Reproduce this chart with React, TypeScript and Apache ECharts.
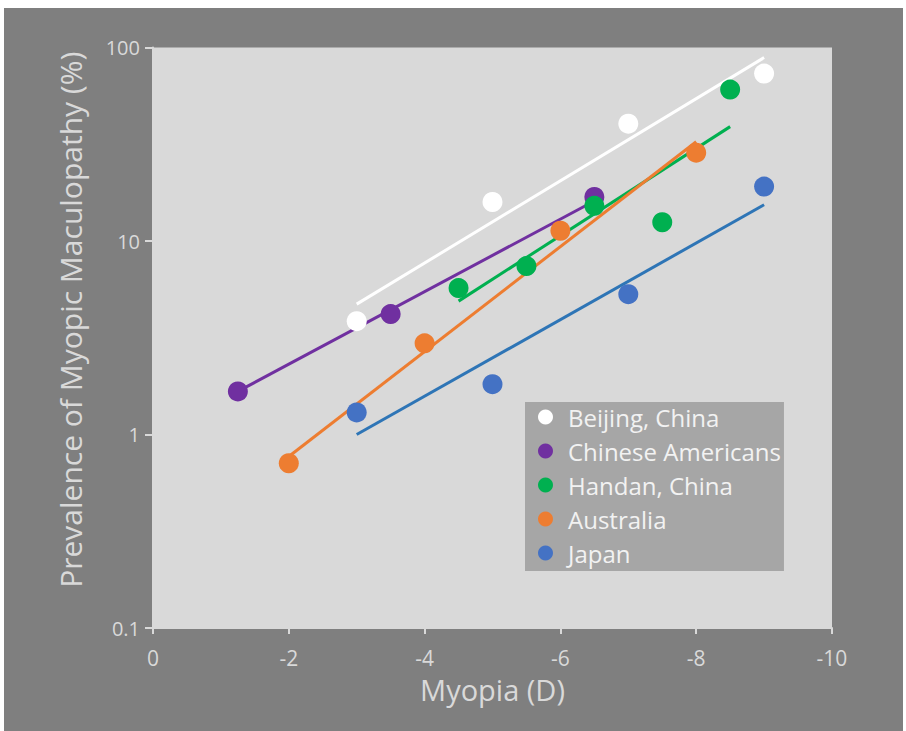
import React, { useEffect, useRef } from "react";
import * as echarts from "echarts";

const seriesNames = ["Beijing, China", "Chinese Americans", "Handan, China", "Australia", "Japan"];
const seriesColors = ["#ffffff", "#7030a0", "#00b050", "#ed7d31", "#4472c4"];
const lineColors = ["#ffffff", "#7030a0", "#00b050", "#ed7d31", "#2e75b6"];

const beijingX = [-3, -5, -7, -9];
const beijingY = [3.85, 15.9, 40.4, 73.3];
const chineseAmX = [-1.25, -3.5, -6.5];
const chineseAmY = [1.67, 4.19, 16.9];
const handanX = [-4.5, -5.5, -6.5, -7.5, -8.5];
const handanY = [5.71, 7.42, 15.2, 12.5, 60.6];
const australiaX = [-2, -4, -6, -8];
const australiaY = [0.71, 2.96, 11.3, 28.6];
const japanX = [-3, -5, -7, -9];
const japanY = [1.3, 1.82, 5.31, 19.1];

// trend line endpoints [x0, y0, x1, y1]
const beijingTrend = [-3, 4.72, -9, 88.7];
const chineseAmTrend = [-1.25, 1.67, -6.5, 16.1];
const handanTrend = [-4.5, 4.89, -8.5, 39.0];
const australiaTrend = [-2, 0.77, -8, 32.6];
const japanTrend = [-3, 1.0, -9, 15.4];

const xTicks = [0, -2, -4, -6, -8, -10];
const yTicks = [0.1, 1, 10, 100];

const pointsX = [beijingX, chineseAmX, handanX, australiaX, japanX];
const pointsY = [beijingY, chineseAmY, handanY, australiaY, japanY];
const trends = [beijingTrend, chineseAmTrend, handanTrend, australiaTrend, japanTrend];

export default function App() {
  const ref = useRef<HTMLDivElement>(null);
  useEffect(() => {
    document.body.style.margin = "0";
    if (!ref.current) return;
    const chart = echarts.init(ref.current, null, { renderer: "svg" });
    const txt = "#d9d9d9";
    const font = "'Open Sans', sans-serif";
    const series: any[] = [];
    trends.forEach((t, i) => {
      series.push({
        type: "line",
        name: seriesNames[i] + " trend",
        data: [
          [t[0], t[1]],
          [t[2], t[3]],
        ],
        symbol: "none",
        lineStyle: { color: lineColors[i], width: 3 },
        z: 2,
        silent: true,
      });
    });
    pointsX.forEach((xs, i) => {
      series.push({
        type: "scatter",
        name: seriesNames[i],
        data: xs.map((x, j) => [x, pointsY[i][j]]),
        symbolSize: 20,
        itemStyle: { color: seriesColors[i], opacity: 1 },
        z: 3,
      });
    });
    chart.setOption({
      animation: false,
      backgroundColor: "#ffffff",
      graphic: [
        {
          type: "rect",
          shape: { x: 4, y: 8, width: 899, height: 723 },
          style: { fill: "#7f7f7f" },
          z: -10,
          silent: true,
        },
      ],
      grid: {
        left: 153,
        right: 74,
        top: 47.5,
        bottom: 103,
        show: true,
        backgroundColor: "#d9d9d9",
        borderWidth: 0,
      },
      legend: {
        data: seriesNames,
        orient: "vertical",
        left: 525,
        top: 402,
        backgroundColor: "#a6a6a6",
        padding: [3, 3, 6, 13],
        itemGap: 10,
        icon: "circle",
        itemWidth: 15,
        itemHeight: 15,
        textStyle: {
          color: "#f2f2f2",
          fontSize: 24,
          lineHeight: 24,
          fontFamily: font,
          padding: [0, 0, 0, 10],
        },
        selectedMode: false,
      },
      xAxis: {
        type: "value",
        min: -10,
        max: 0,
        interval: 2,
        inverse: true,
        name: "Myopia (D)",
        nameLocation: "middle",
        nameGap: 47,
        nameTextStyle: { color: txt, fontSize: 29, lineHeight: 29, fontFamily: font },
        axisLine: { show: true, lineStyle: { color: txt, width: 2 } },
        axisTick: { show: true, length: 6, lineStyle: { color: txt, width: 2 } },
        axisLabel: {
          color: txt,
          fontSize: 21,
          lineHeight: 21,
          fontFamily: font,
          margin: 19,
          formatter: (v: number) => (xTicks.includes(v) ? String(v) : ""),
        },
        splitLine: { show: false },
      },
      yAxis: {
        type: "log",
        logBase: 10,
        min: 0.1,
        max: 100,
        name: "Prevalence of Myopic Maculopathy (%)",
        nameLocation: "middle",
        nameGap: 68,
        nameTextStyle: {
          color: txt,
          fontSize: 30,
          lineHeight: 30,
          fontFamily: font,
          padding: [0, 0, 0, 36],
        },
        axisLine: { show: true, lineStyle: { color: txt, width: 2 } },
        axisTick: { show: true, length: 8, lineStyle: { color: txt, width: 2 } },
        axisLabel: {
          color: txt,
          fontSize: 20,
          fontFamily: font,
          margin: 13,
          formatter: (v: number) => {
            const m = yTicks.find((t) => Math.abs(t - v) / t < 1e-6);
            return m !== undefined ? String(m) : "";
          },
        },
        splitLine: { show: false },
      },
      series,
    });
    return () => chart.dispose();
  }, []);
  return <div ref={ref} style={{ width: 906, height: 731 }} />;
}
